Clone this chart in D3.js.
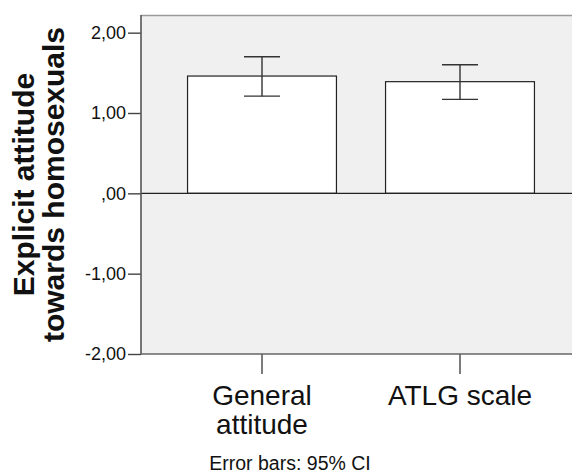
<!DOCTYPE html>
<html><head><meta charset="utf-8">
<script src="https://cdn.jsdelivr.net/npm/d3@7"></script>
<style>body{margin:0;background:#fff}svg{display:block;font-family:Arial,"Liberation Sans",sans-serif}</style>
</head><body>
<svg id="c" width="572" height="473"></svg>
<script>
const categories = [["General","attitude"],["ATLG scale"]];
const means = [1.46, 1.39];
const ciLow = [1.21, 1.17];
const ciHigh = [1.70, 1.60];
const yTicks = [-2, -1, 0, 1, 2];
const yTickLabels = ["-2,00","-1,00",",00","1,00","2,00"];
const yTitle = ["Explicit attitude","towards homosexuals"];
const note = "Error bars: 95% CI";

const svg = d3.select("#c");
const L = 141, R = 572, T = 15, B = 354;
const y = d3.scaleLinear().domain([-2, 2.22]).range([B, T]);
const x = d3.scaleBand().domain(d3.range(categories.length)).range([163, 559]);
const barW = x.bandwidth() * 0.752;

svg.append("rect").attr("x", L).attr("y", T).attr("width", R - L).attr("height", B - T).attr("fill", "#f0f0f0");
svg.append("line").attr("x1", L).attr("x2", R).attr("y1", T + 0.5).attr("y2", T + 0.5).attr("stroke", "#9a9a9a").attr("stroke-width", 1.5);

// bars
svg.selectAll("rect.bar").data(means).enter().append("rect").attr("class", "bar")
  .attr("x", (d, i) => x(i) + (x.bandwidth() - barW) / 2)
  .attr("y", d => y(d))
  .attr("width", barW)
  .attr("height", d => y(0) - y(d))
  .attr("fill", "#fff").attr("stroke", "#222").attr("stroke-width", 1.2);

// zero line
svg.append("line").attr("x1", L).attr("x2", R).attr("y1", y(0)).attr("y2", y(0)).attr("stroke", "#222").attr("stroke-width", 1.3);

// error bars
const cap = 18;
means.forEach((m, i) => {
  const cx = x(i) + x.bandwidth() / 2;
  const g = svg.append("g").attr("stroke", "#333").attr("stroke-width", 1.4);
  g.append("line").attr("x1", cx).attr("x2", cx).attr("y1", y(ciHigh[i])).attr("y2", y(ciLow[i]));
  g.append("line").attr("x1", cx - cap).attr("x2", cx + cap).attr("y1", y(ciHigh[i])).attr("y2", y(ciHigh[i]));
  g.append("line").attr("x1", cx - cap).attr("x2", cx + cap).attr("y1", y(ciLow[i])).attr("y2", y(ciLow[i]));
});

// y axis
const yAxis = d3.axisLeft(y).tickValues(yTicks).tickSize(13).tickPadding(2)
  .tickFormat((d, i) => yTickLabels[i]);
const gy = svg.append("g").attr("transform", `translate(${L},0)`).call(yAxis);
gy.select(".domain").remove();
gy.selectAll(".tick line").attr("stroke", "#444").attr("stroke-width", 1.4);
gy.selectAll(".tick text").attr("font-size", 18).attr("fill", "#111").attr("font-family", "Arial, 'Liberation Sans', sans-serif");
svg.append("line").attr("x1", L).attr("x2", L).attr("y1", T).attr("y2", B + 0.7).attr("stroke", "#555").attr("stroke-width", 1.6);

// x axis
const xAxis = d3.axisBottom(x).tickSize(20).tickFormat("");
const gx = svg.append("g").attr("transform", `translate(0,${B})`).call(xAxis);
gx.select(".domain").remove();
gx.selectAll(".tick line").attr("stroke", "#444").attr("stroke-width", 1.4);
svg.append("line").attr("x1", L).attr("x2", R).attr("y1", B).attr("y2", B).attr("stroke", "#666").attr("stroke-width", 1.6);

categories.forEach((lines, i) => {
  const t = svg.append("text").attr("text-anchor", "middle").attr("font-size", 28).attr("fill", "#111");
  lines.forEach((ln, j) => {
    t.append("tspan").attr("x", x(i) + x.bandwidth() / 2).attr("y", 405 + j * 28.5).text(ln);
  });
});

// y title
const yt = svg.append("text").attr("transform", `translate(0,${(T + B) / 2}) rotate(-90)`)
  .attr("text-anchor", "middle").attr("font-size", 30).attr("font-weight", "bold").attr("fill", "#111");
yTitle.forEach((ln, j) => yt.append("tspan").attr("x", 0).attr("y", 34 + j * 30).text(ln));

svg.append("text").attr("x", 290).attr("y", 470).attr("text-anchor", "middle").attr("font-size", 19.5).attr("fill", "#111").text(note);
</script>
</body></html>
